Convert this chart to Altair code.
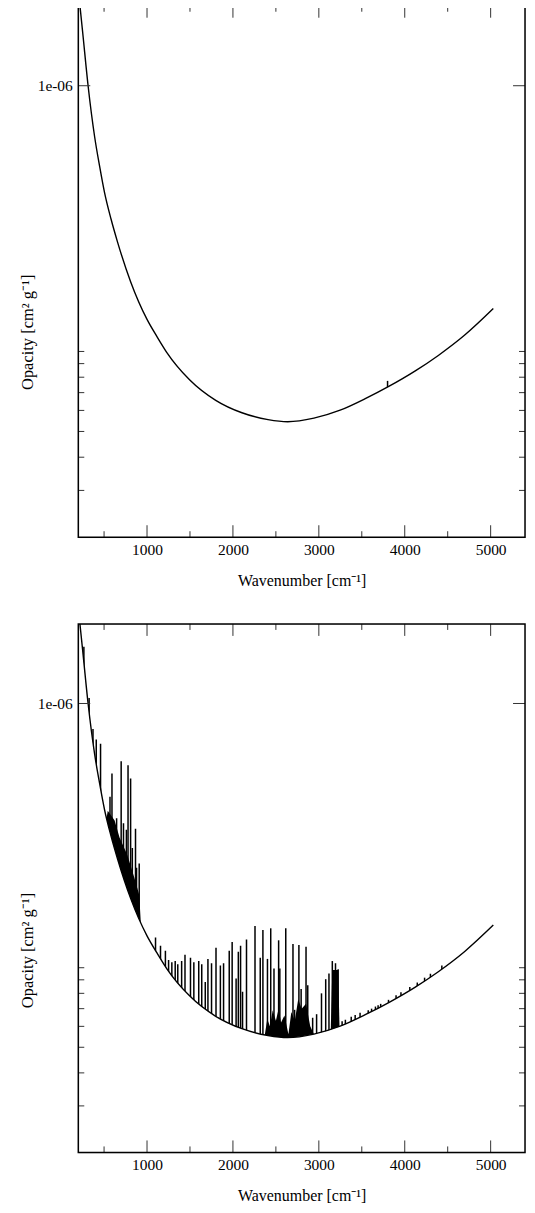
import altair as alt
import pandas as pd

# ---------------- data ----------------
# continuum (smooth curve), wavenumber [cm^-1] / opacity [cm^2 g^-1]
cont_x = [219, 250, 314, 391, 448, 505, 581, 657, 809, 1000, 1114, 1229, 1495, 1800,
          2105, 2409, 2638, 2943, 3248, 3552, 3819, 4123, 4391, 4695, 5031]
cont_y = [2.0e-6, 1.6e-6, 1.00e-6, 6.40e-7, 4.98e-7, 3.97e-7, 3.15e-7, 2.58e-7, 1.83e-7,
          1.32e-7, 1.14e-7, 9.93e-8, 7.83e-8, 6.55e-8, 5.88e-8, 5.54e-8, 5.44e-8, 5.61e-8,
          6.01e-8, 6.67e-8, 7.40e-8, 8.45e-8, 9.66e-8, 1.15e-7, 1.45e-7]

# top panel: one tiny line
top_spike_x = [3800]
top_spike_top = [7.75e-8]

# bottom panel: line peaks
spike_x = [265, 326, 371, 409, 459, 569, 592, 646, 699, 726, 760, 779, 809, 829, 866, 878,
           909, 1099, 1157, 1214, 1251, 1289, 1328, 1358, 1403, 1442, 1506, 1545, 1602,
           1637, 1678, 1709, 1751, 1803, 1854, 1891, 1957, 1991, 2037, 2063, 2089, 2112,
           2158, 2257, 2318, 2349, 2402, 2440, 2478, 2532, 2546, 2615, 2699, 2718, 2768,
           2794, 2851, 2871, 2928, 2974, 3031, 3080, 3118, 3157, 3194, 3225, 3271, 3309,
           3377, 3423, 3480, 3575, 3614, 3659, 3690, 3720, 3811, 3899, 3956, 4059, 4146,
           4231, 4299, 4432]
spike_top = [1.64e-6, 1.05e-6, 8.01e-7, 7.31e-7, 7.04e-7, 4.44e-7, 5.43e-7, 3.68e-7,
             6.04e-7, 3.52e-7, 3.33e-7, 5.84e-7, 5.20e-7, 2.84e-7, 3.36e-7, 2.39e-7,
             2.48e-7, 1.30e-7, 1.21e-7, 1.16e-7, 1.07e-7, 1.05e-7, 1.06e-7, 1.03e-7,
             1.06e-7, 1.12e-7, 1.09e-7, 1.05e-7, 1.06e-7, 1.03e-7, 8.84e-8, 1.08e-7,
             1.04e-7, 1.19e-7, 1.02e-7, 1.04e-7, 1.16e-7, 1.25e-7, 9.11e-8, 1.15e-7,
             1.21e-7, 8.11e-8, 1.28e-7, 1.44e-7, 1.09e-7, 1.39e-7, 1.08e-7, 1.41e-7,
             9.93e-8, 1.27e-7, 9.93e-8, 1.41e-7, 1.23e-7, 6.93e-8, 1.22e-7, 8.30e-8,
             1.20e-7, 8.59e-8, 6.46e-8, 6.67e-8, 8.00e-8, 9.05e-8, 9.51e-8, 1.06e-7,
             1.04e-7, 9.87e-8, 6.27e-8, 6.35e-8, 6.52e-8, 6.63e-8, 6.75e-8, 6.90e-8,
             7.0e-8, 7.13e-8, 7.21e-8, 7.30e-8, 7.56e-8, 7.87e-8, 8.07e-8, 8.45e-8,
             8.79e-8, 9.17e-8, 9.49e-8, 1.02e-7]

# upper envelope of the dense (black-filled) line forests
band_group = ["a"] * 8 + ["b"] * 16 + ["c"] * 4
band_x = [530, 543, 623, 680, 771, 851, 909, 931,
          2372, 2400, 2430, 2463, 2500, 2532, 2560, 2600, 2646, 2680, 2720, 2760, 2800,
          2851, 2900, 2943,
          3140, 3157, 3225, 3240]
band_top = [3.7e-7, 3.93e-7, 3.61e-7, 3.11e-7, 2.67e-7, 2.20e-7, 1.89e-7, 1.42e-7,
            5.6e-8, 6.4e-8, 6.0e-8, 6.9e-8, 6.3e-8, 7.0e-8, 6.2e-8, 6.6e-8, 5.6e-8,
            6.8e-8, 6.3e-8, 7.6e-8, 7.0e-8, 7.3e-8, 6.0e-8, 5.6e-8,
            6.0e-8, 9.8e-8, 9.8e-8, 6.1e-8]

x_major = [1000, 2000, 3000, 4000, 5000]
x_minor = [500, 1500, 2500, 3500, 4500]
y_major = [1e-6]
y_major_labels = ["1e-06"]
y_minor = [1e-7, 9e-8, 8e-8, 7e-8, 6e-8, 5e-8, 4e-8, 3e-8]

x_title = "Wavenumber [cm⁻¹]"
y_title = "Opacity [cm² g⁻¹]"

# ---------------- chart ----------------
W = 448
FONT = "Liberation Serif"
TICK = "#333333"

x_scale = alt.Scale(domain=[200, 5400], nice=False, zero=False)
y_scale = alt.Scale(type="log", domain=[2e-8, 2e-6], nice=False)

cont_df = pd.DataFrame({"x": cont_x, "y": cont_y})
label_expr = " : ".join(
    [f"datum.value == {v} ? '{s}'" for v, s in zip(y_major, y_major_labels)] + ["''"]
)

xa = alt.Axis(values=x_major, format="d", title=x_title, ticks=False, tickSize=0,
              domain=False, grid=False, labelPadding=5, labelFontSize=15.5,
              labelFont=FONT, titleFont=FONT,
              labelColor="black", titleFontSize=16, titleFontWeight="normal",
              titleColor="black", titleX=W / 2, titleY=43, titleBaseline="middle")
ya = alt.Axis(values=y_major, labelExpr=label_expr, title=y_title, ticks=False,
              tickSize=0, domain=False, grid=False, labelPadding=6,
              labelFont=FONT, titleFont=FONT,
              labelFontSize=15.5, labelColor="black", titleFontSize=16.5,
              titleFontWeight="normal", titleColor="black", titleX=-51,
              titleY=327, titleBaseline="middle", titleAlign="center")


def X(f):
    return alt.X(f, scale=x_scale, axis=xa)


def Y(f):
    return alt.Y(f, scale=y_scale, axis=ya)


def tick_layers(H):
    layers = []
    for vals, ln in ((x_major, 12), (x_minor, 6)):
        df = pd.DataFrame({"x": vals})
        for y0, y1 in ((0, ln), (H, H - ln)):
            layers.append(
                alt.Chart(df).mark_rule(color=TICK, strokeWidth=1).encode(
                    x=X("x:Q"), y=alt.value(y0), y2=alt.value(y1)))
    for vals, ln in ((y_major, 12), (y_minor, 6)):
        df = pd.DataFrame({"y": vals})
        for x0, x1 in ((0, ln), (W, W - ln)):
            layers.append(
                alt.Chart(df).mark_rule(color=TICK, strokeWidth=1).encode(
                    y=Y("y:Q"), x=alt.value(x0), x2=alt.value(x1)))
    return layers


def panel(H, sx, stop, with_band):
    spikes = alt.Chart(pd.DataFrame({"x": sx, "y": stop})).mark_rule(
        color="black", strokeWidth=1.5, clip=True).encode(
        x=X("x:Q"), y=Y("y:Q"), y2=alt.datum(4.5e-8))
    layers = [spikes]
    if with_band:
        band = alt.Chart(pd.DataFrame({"g": band_group, "x": band_x, "y": band_top})).mark_area(
            color="black", clip=True).encode(
            x=X("x:Q"), y=Y("y:Q"), y2=alt.datum(4.5e-8), detail="g:N")
        layers.append(band)
    mask = alt.Chart(cont_df).mark_area(color="white", opacity=1, interpolate="monotone",
                                        clip=True).encode(
        x=X("x:Q"), y=Y("y:Q"), y2=alt.datum(4e-8))
    line = alt.Chart(cont_df).mark_line(color="black", strokeWidth=1.4,
                                        interpolate="monotone", clip=True).encode(
        x=X("x:Q"), y=Y("y:Q"))
    frame = alt.Chart(pd.DataFrame({"a": [0]})).mark_rect(
        fill="transparent", stroke="black", strokeWidth=1.5).encode(
        x=alt.value(0), x2=alt.value(W), y=alt.value(0), y2=alt.value(H))
    layers += [mask, line] + tick_layers(H) + [frame]
    return alt.layer(*layers).properties(width=W, height=H)


top = panel(533, top_spike_x, top_spike_top, False)
bottom = panel(530, spike_x, spike_top, True)

chart = alt.vconcat(top, bottom, spacing=33).properties(
    padding={"left": 10.5, "top": -6, "right": 0, "bottom": 0}
).configure_view(stroke=None).configure(font=FONT, background="white")

chart.save("out.html", embed_options={"renderer": "svg", "actions": False})
